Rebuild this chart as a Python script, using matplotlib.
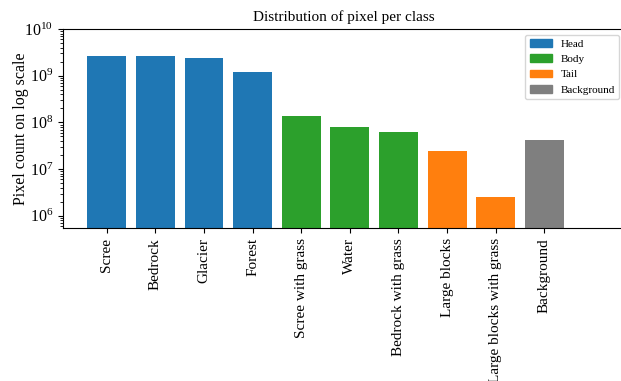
import numpy as np
import matplotlib
matplotlib.use("Agg")
import matplotlib.pyplot as plt
from matplotlib.patches import Patch

plt.rcParams['font.family'] = ['Liberation Serif', 'DejaVu Serif']
plt.rcParams['mathtext.fontset'] = 'stix'

classes = ['Scree', 'Bedrock', 'Glacier', 'Forest', 'Scree with grass', 'Water',
           'Bedrock with grass', 'Large blocks', 'Large blocks with grass', 'Background']
pixel_counts = [2.7e9, 2.7e9, 2.35e9, 1.18e9, 1.36e8, 7.9e7, 6.2e7, 2.44e7, 2.5e6, 4.2e7]
groups = ['Head', 'Head', 'Head', 'Head', 'Body', 'Body', 'Body', 'Tail', 'Tail', 'Background']
group_names = ['Head', 'Body', 'Tail', 'Background']
group_colors = {'Head': '#1f77b4', 'Body': '#2ca02c', 'Tail': '#ff7f0e', 'Background': '#7f7f7f'}

fig = plt.figure(figsize=(6.21, 3.81), dpi=100)
ax = fig.add_axes([63 / 621, (381 - 228.3) / 381, (625 - 63) / 621, (228.3 - 29) / 381])

x = np.arange(len(classes))
ax.bar(x, pixel_counts, width=0.8, color=[group_colors[g] for g in groups])
ax.set_yscale('log')
ax.set_ylim(5.4e5, 1e10)
ax.set_xlim(-0.9, 10.66)
ax.set_xticks(x)
ax.set_xticklabels(classes, rotation=90, fontsize=11)
ax.tick_params(axis='y', labelsize=11.5)
ax.set_ylabel('Pixel count on log scale', fontsize=11.5, labelpad=-3)
ax.set_title('Distribution of pixel per class', fontsize=11)

handles = [Patch(color=group_colors[g], label=g) for g in group_names]
ax.legend(handles=handles, loc='upper right', fontsize=8)

fig.savefig('out.png', dpi=100)
